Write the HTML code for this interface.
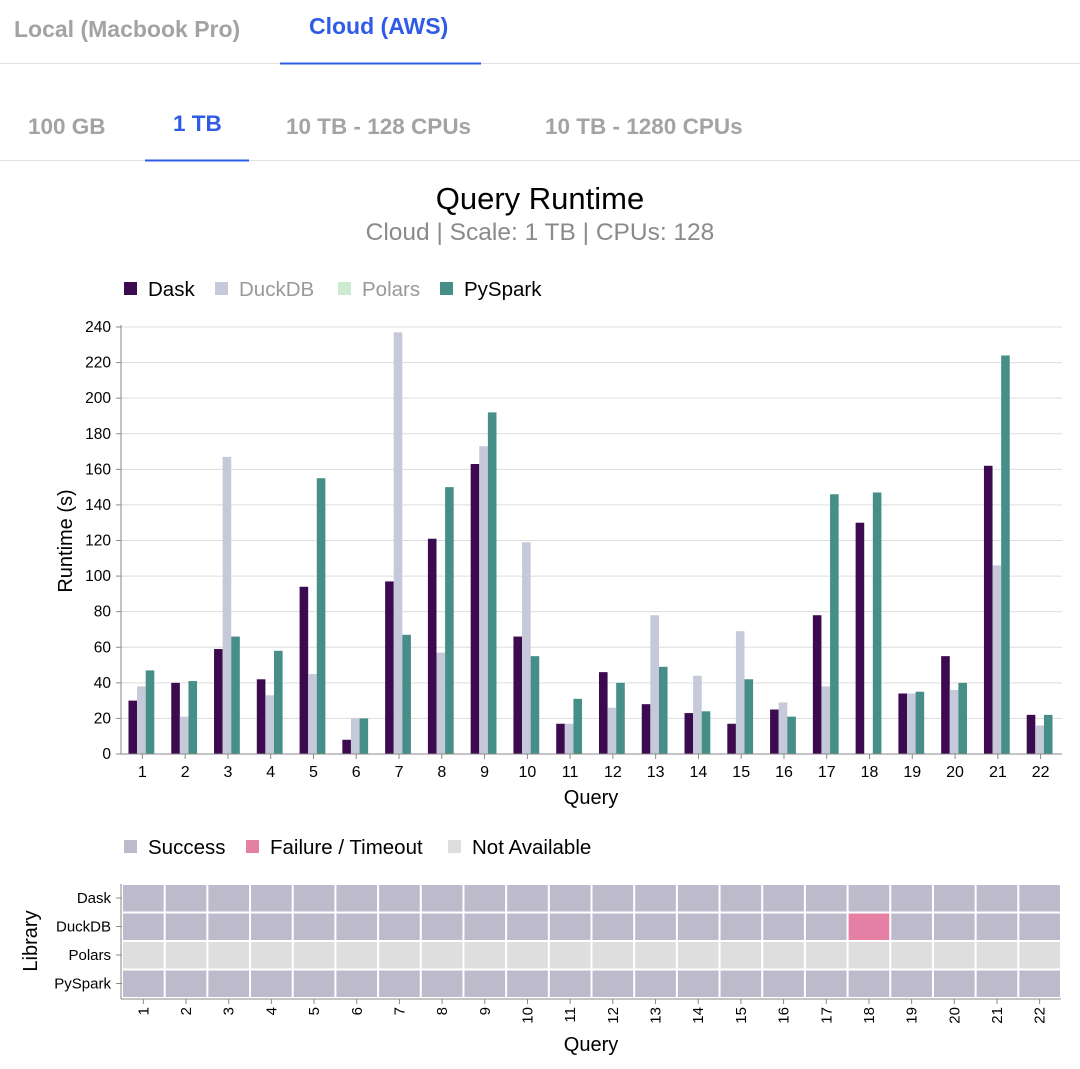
<!DOCTYPE html>
<html><head><meta charset="utf-8"><style>
body{margin:0;width:1080px;height:1069px;background:#fff;overflow:hidden;font-family:"Liberation Sans",sans-serif}
svg{position:absolute;left:0;top:0}
</style></head><body>
<svg id="s" width="1080" height="1069">
<g>
<text x="14" y="37" font-size="23" font-weight="bold" fill="#a3a3a3">Local (Macbook Pro)</text>
<text x="309" y="34" font-size="23" font-weight="bold" fill="#2f5be6">Cloud (AWS)</text>
<line x1="0" y1="63.5" x2="1080" y2="63.5" stroke="#e0e0e0"/>
<line x1="280" y1="63.5" x2="481" y2="63.5" stroke="#2f5be6" stroke-width="2"/>
</g>
<g>
<text x="28" y="134" font-size="22.5" font-weight="bold" fill="#a3a3a3">100 GB</text>
<text x="173" y="131" font-size="22.5" font-weight="bold" fill="#2f5be6">1 TB</text>
<text x="286" y="134" font-size="22.5" font-weight="bold" fill="#a3a3a3">10 TB - 128 CPUs</text>
<text x="545" y="134" font-size="22.5" font-weight="bold" fill="#a3a3a3">10 TB - 1280 CPUs</text>
<line x1="0" y1="160.5" x2="1080" y2="160.5" stroke="#e0e0e0"/>
<line x1="145" y1="160.5" x2="249" y2="160.5" stroke="#2f5be6" stroke-width="2"/>
</g>
<text x="540" y="209" font-size="31" text-anchor="middle" fill="#000">Query Runtime</text>
<text x="540" y="240" font-size="24.5" text-anchor="middle" fill="#8a8a8a">Cloud | Scale: 1 TB | CPUs: 128</text>
<g id="legend"></g>
<g id="grid"></g><g id="bars"></g><g id="axes"></g>
<g id="heat"></g>
</svg>
<script>
const queries=["1","2","3","4","5","6","7","8","9","10","11","12","13","14","15","16","17","18","19","20","21","22"];
const dask=[30,40,59,42,94,8,97,121,163,66,17,46,28,23,17,25,78,130,34,55,162,22];
const duckdb=[38,21,167,33,45,20,237,57,173,119,17,26,78,44,69,29,38,0,34,36,106,16];
const polars=[0,0,0,0,0,0,0,0,0,0,0,0,0,0,0,0,0,0,0,0,0,0];
const pyspark=[47,41,66,58,155,20,67,150,192,55,31,40,49,24,42,21,146,147,35,40,224,22];
const yTicks=[0,20,40,60,80,100,120,140,160,180,200,220,240];
const libraries=["Dask","DuckDB","Polars","PySpark"];
const statusDuckdb=["s","s","s","s","s","s","s","s","s","s","s","s","s","s","s","s","s","f","s","s","s","s"];
const NS="http://www.w3.org/2000/svg";
function mk(p,t,a,txt){const e=document.createElementNS(NS,t);for(const k in a)e.setAttribute(k,a[k]);if(txt!==undefined)e.textContent=txt;p.appendChild(e);return e;}
const x0=121,x1=1062,y0=754,y1=327;
const step=(x1-x0)/queries.length;
const xc=i=>x0+step*(i+0.5);
const y=v=>y0-(v/240)*(y0-y1);
const G=id=>document.getElementById(id);
const leg=[["Dask","#3c0a4f","#000"],["DuckDB","#c5c9d9","#999"],["Polars","#cdebd0","#999"],["PySpark","#468f88","#000"]];
const lx=[124,215,338,440];
leg.forEach((l,i)=>{const g=mk(G('legend'),'g',{});


mk(g,'rect',{x:lx[i],y:282,width:13,height:13,fill:l[1]});mk(g,'text',{x:lx[i]+24,y:296,'font-size':20.5,fill:l[2]},l[0]);});
yTicks.forEach(t=>{const ln=mk(G('grid'),'line',{x1:x0,x2:x1,y1:y(t),y2:y(t),stroke:'#ddd'});

const tx=mk(G('axes'),'text',{x:x0-10,y:y(t)+5,'font-size':15.5,'text-anchor':'end'},t);

mk(G('axes'),'line',{x1:x0-5,x2:x0,y1:y(t),y2:y(t),stroke:'#888'});});
const bw=8.6;
const series=[[dask,"#3c0a4f","dask"],[duckdb,"#c5c9d9","duckdb"],[pyspark,"#468f88","pyspark"]];
queries.forEach((q,i)=>{series.forEach((s,j)=>{const v=s[0][i];if(!v)return;
const r=mk(G('bars'),'rect',{x:xc(i)-1.5*bw+j*bw-1,y:y(v),width:bw,height:y0-y(v),fill:s[1]});
});
mk(G('axes'),'line',{x1:xc(i),x2:xc(i),y1:y0,y2:y0+5,stroke:'#888'});
const t=mk(G('axes'),'text',{x:xc(i),y:y0+23,'font-size':16,'text-anchor':'middle'},q);
});
mk(G('axes'),'line',{x1:x0,x2:x0,y1:y1-2,y2:y0,stroke:'#888'});
mk(G('axes'),'line',{x1:x0,x2:x1,y1:y0,y2:y0,stroke:'#888'});
let a=mk(G('axes'),'text',{x:591,y:804,'font-size':20,'text-anchor':'middle'},'Query');
a=mk(G('axes'),'text',{x:0,y:0,'font-size':20,'text-anchor':'middle',transform:'translate(72,541) rotate(-90)'},'Runtime (s)');
const hl=[["Success","#bcbacb",124],["Failure / Timeout","#e57fa3",246],["Not Available","#dedede",448]];
hl.forEach(l=>{const g=mk(G('heat'),'g',{});
mk(g,'rect',{x:l[2],y:840,width:13,height:13,fill:l[1]});mk(g,'text',{x:l[2]+24,y:854,'font-size':20.5},l[0]);});
const hx0=122,hx1=1061,hy0=884,rh=28.5;
const hs=(hx1-hx0)/queries.length;
libraries.forEach((lib,r)=>{
const t=mk(G('heat'),'text',{x:hx0-11,y:hy0+r*rh+19,'font-size':15,'text-anchor':'end'},lib);

mk(G('heat'),'line',{x1:hx0-6,x2:hx0,y1:hy0+r*rh+14,y2:hy0+r*rh+14,stroke:'#888'});
queries.forEach((q,i)=>{let c="#bcbacb";if(lib==="Polars")c="#dedede";if(lib==="DuckDB"&&statusDuckdb[i]==="f")c="#e57fa3";
const rc=mk(G('heat'),'rect',{x:hx0+i*hs+1,y:hy0+r*rh+1,width:hs-2,height:rh-2,fill:c});
});});
mk(G('heat'),'line',{x1:hx0-1,x2:hx0-1,y1:hy0,y2:hy0+4*rh+1,stroke:'#888'});
mk(G('heat'),'line',{x1:hx0-1,x2:hx1,y1:hy0+4*rh+1,y2:hy0+4*rh+1,stroke:'#888'});
queries.forEach((q,i)=>{const cx=hx0+hs*(i+0.5);
mk(G('heat'),'line',{x1:cx,x2:cx,y1:hy0+4*rh+1,y2:hy0+4*rh+6,stroke:'#888'});
const t=mk(G('heat'),'text',{x:0,y:0,'font-size':15,'text-anchor':'end',transform:`translate(${cx+5},${hy0+4*rh+9}) rotate(-90)`},q);
});
a=mk(G('heat'),'text',{x:591,y:1051,'font-size':20,'text-anchor':'middle'},'Query');
a=mk(G('heat'),'text',{x:0,y:0,'font-size':20,'text-anchor':'middle',transform:'translate(37,941) rotate(-90)'},'Library');
</script>
</body></html>
